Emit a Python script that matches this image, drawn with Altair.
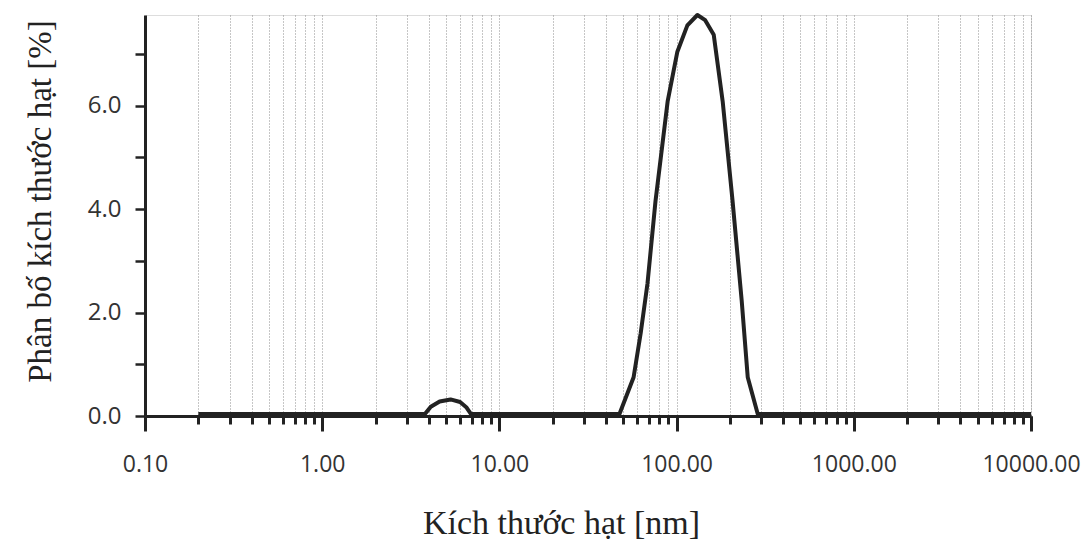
import altair as alt
import pandas as pd

size_nm = [0.2, 3.8, 4.1, 4.6, 5.3, 6.0, 6.5, 6.9, 47.6, 57.2, 62.7, 68.5, 76, 89, 101, 115, 131, 145, 162, 182, 207, 233, 252, 287, 10000]
dist_pct = [0.04, 0.04, 0.18, 0.28, 0.32, 0.27, 0.17, 0.04, 0.04, 0.75, 1.6, 2.56, 4.15, 6.08, 7.04, 7.55, 7.75, 7.65, 7.37, 6.08, 4.15, 2.23, 0.75, 0.04, 0.04]

decades = [0.1, 1, 10, 100, 1000, 10000]
minor_ticks = [round(m * d, 6) for d in [0.1, 1, 10, 100, 1000] for m in range(2, 10)]
grid_vals = sorted(minor_ticks + decades[1:])
y_ticks = [i * 0.5 for i in range(0, 16)]

df = pd.DataFrame({"size": size_nm, "dist": dist_pct})

xscale = alt.Scale(type="log", domain=[0.1, 10000], nice=False)
yscale = alt.Scale(domain=[0, 7.75], nice=False)

label_font = "Open Sans"
title_font = "Liberation Serif"

grid_layer = alt.Chart(df).mark_line(opacity=0).encode(
    x=alt.X("size:Q", scale=xscale,
            axis=alt.Axis(values=grid_vals, labels=False, title=None, grid=True,
                          gridDash=[1, 2], gridColor="#8c8c8c", gridWidth=1,
                          tickSize=8, tickWidth=3, tickColor="#222",
                          domain=False, orient="bottom")),
    y=alt.Y("dist:Q", scale=yscale,
            axis=alt.Axis(values=y_ticks, grid=False, tickSize=10, tickWidth=2.5,
                          tickColor="#222", domainColor="#222", domainWidth=3,
                          labelExpr="datum.value % 2 == 0 ? format(datum.value, '.1f') : ''",
                          labelFont=label_font, labelFontSize=24, labelColor="#333",
                          labelPadding=14,
                          title="Phân bố kích thước hạt [%]", titleFont=title_font,
                          titleFontSize=33, titleFontWeight="normal", titleColor="#222",
                          titlePadding=30, titleY=186)),
)

line_layer = alt.Chart(df).mark_line(color="#222", strokeWidth=4, strokeJoin="round").encode(
    x=alt.X("size:Q", scale=xscale,
            axis=alt.Axis(values=decades, format=".2f", grid=False,
                          tickSize=15, tickWidth=3, tickColor="#222",
                          domainColor="#222", domainWidth=3,
                          labelFont=label_font, labelFontSize=23, labelColor="#333",
                          labelPadding=22, labelFlush=False,
                          title="Kích thước hạt [nm]", titleFont=title_font,
                          titleFontSize=34, titleFontWeight="normal", titleColor="#222",
                          titlePadding=30, titleX=416, orient="bottom")),
    y=alt.Y("dist:Q", scale=yscale),
)

chart = alt.layer(grid_layer, line_layer).resolve_axis(x="independent").properties(
    width=886, height=401,
    padding={"left": 137, "top": 7, "right": 50, "bottom": 128},
    autosize="none",
).configure_view(stroke=None).configure(background="white")

chart.save("out.html", embed_options={"renderer": "svg", "actions": False})
